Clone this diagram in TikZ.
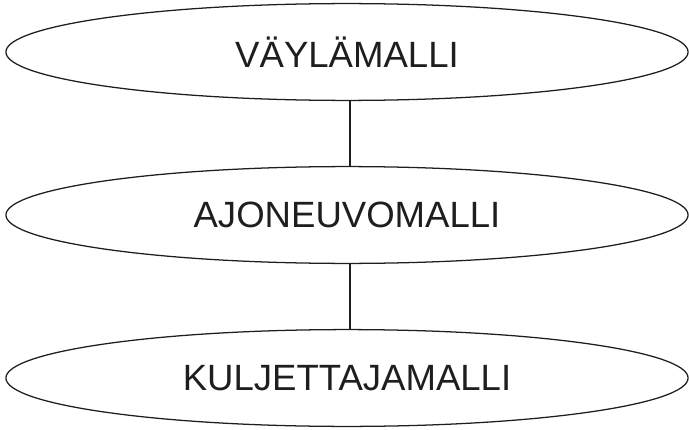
\documentclass[tikz,border=0pt]{standalone}
\usepackage{fontspec}
\setmainfont{Liberation Sans}
\usepackage{xcolor}
\definecolor{inkgray}{HTML}{1E1E1E}
\usepackage{tikz}
\usetikzlibrary{shapes.geometric}

\tikzset{
  layer/.style={ellipse, draw=inkgray, line width=0.9pt, minimum width=17.05cm,
    minimum height=2.42cm, inner sep=0pt, font=\fontsize{26}{31}\selectfont, text=inkgray},
  link/.style={draw=inkgray, line width=0.9pt}
}

\begin{document}
\begin{tikzpicture}[x=0.025cm, y=0.025cm]
  \useasboundingbox (0,0) rectangle (689,429);
  \foreach \n/\y/\t in {vayla/377/VÄYLÄMALLI, ajoneuvo/214/AJONEUVOMALLI, kuljettaja/51/KULJETTAJAMALLI}
    \node[layer] (\n) at (347,\y){\t};
  % links sit a little right of the centre line
  \path[link] ([xshift=0.075cm]vayla.south) -- ([xshift=0.075cm]ajoneuvo.north);
  \path[link] ([xshift=0.075cm]ajoneuvo.south) -- ([xshift=0.075cm]kuljettaja.north);
\end{tikzpicture}
\end{document}
